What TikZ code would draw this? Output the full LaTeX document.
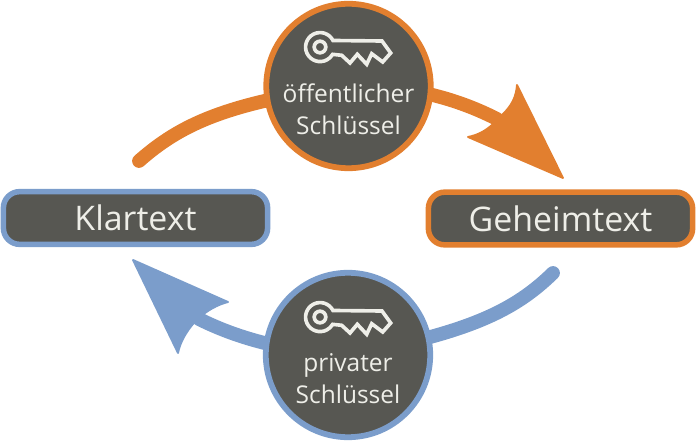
\documentclass[tikz,border=0pt]{standalone}
\usepackage{fontspec}
\setmainfont{Open Sans}
\definecolor{orangeline}{HTML}{E27F2F}
\definecolor{blueline}{HTML}{7B9DCB}
\definecolor{darkfill}{HTML}{575752}
\definecolor{lighttext}{HTML}{EEEEE8}
\tikzset{
  textbox/.style={draw,line width=4.4pt,fill=darkfill,text=lighttext,rounded corners=13pt,
    minimum width=210.5pt,minimum height=42pt,inner sep=0pt,font=\fontsize{27}{27}\selectfont},
  keycircle/.style={circle,draw,line width=4.6pt,fill=darkfill,text=lighttext,
    minimum size=131pt,inner sep=0pt},
  keylabel/.style={text=lighttext,align=center,inner sep=0pt,font=\fontsize{19.5}{25.4}\selectfont},
  arcline/.style={line width=11pt,line cap=round},
  arrowhead/.style={line width=1.5pt,line join=round},
  keyicon/.pic={
    \draw[lighttext,line width=2.9pt,line join=miter]
      (13,-6.5) arc[start angle=-27,end angle=-330,radius=14.5]
      -- (21.7,8.3) -- (30,16) -- (37.3,7.3) -- (46.7,17.3) -- (51.7,6.7)
      -- (62.7,15) -- (70.7,6) -- (62,-6) -- cycle;
    \draw[lighttext,line width=2.9pt] (0,0) circle[radius=5.8];
  }
}
\begin{document}
\begin{tikzpicture}[x=.028cm,y=-.028cm]
  \useasboundingbox (0,0) rectangle (700,446);
  % boxes
  \node[textbox,draw=blueline] (klartext) at (135.5,218) {Klartext};
  \node[textbox,draw=orangeline] (geheimtext) at (560.5,218.5) {Geheimtext};
  % free ends of the arcs
  \coordinate (orangestart) at (139,161);
  \coordinate (orangeend) at (497,119);
  \coordinate (bluestart) at (553,273);
  \coordinate (blueend) at (199,319);
  \coordinate (orangetip) at (563,178);
  \coordinate (orangeup) at (517,85);
  \coordinate (orangedown) at (468,137);
  \coordinate (bluetip) at (133,260);
  \coordinate (blueup) at (228,302);
  \coordinate (bluedown) at (178,353);
  % circle centres
  \coordinate (pubcentre) at (348.5,86);
  \coordinate (privcentre) at (348,355);
  % arcs
  \draw[arcline,orangeline] (orangestart) .. controls (180,125) and (225,103) .. (pubcentre);
  \draw[arcline,orangeline] (pubcentre) .. controls (400,85) and (450,95) .. (orangeend);
  \draw[arcline,blueline] (bluestart) .. controls (515,310) and (470,333) .. (privcentre);
  \draw[arcline,blueline] (privcentre) .. controls (295,352) and (245,342) .. (blueend);
  % arrow heads
  \filldraw[arrowhead,orangeline] (orangetip) -- (orangeup)
    .. controls (516,98) and (511,106) .. (503,114)
    -- (492,125) .. controls (485,131) and (478,135) .. (orangedown) -- cycle;
  \filldraw[arrowhead,blueline] (bluetip) -- (blueup)
    .. controls (220,304) and (212,308) .. (205,313)
    -- (193,324) .. controls (187,331) and (180,342) .. (bluedown) -- cycle;
  % key circles
  \node[keycircle,draw=orangeline] (pubkey) at (pubcentre) {};
  \node[keycircle,draw=blueline] (privkey) at (privcentre) {};
  \path (320,47) pic {keyicon};
  \path (320,317) pic {keyicon};
  \node[keylabel] (publabel) at (348.5,109) {öffentlicher\\Schlüssel};
  \node[keylabel] (privlabel) at (348,379) {privater\\Schlüssel};
\end{tikzpicture}
\end{document}
